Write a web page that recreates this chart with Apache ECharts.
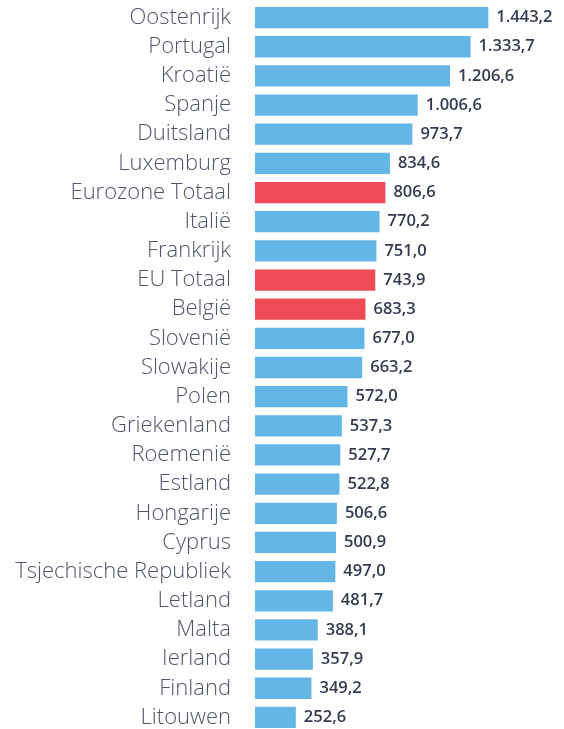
<!DOCTYPE html>
<html>
<head>
<meta charset="utf-8">
<script src="https://cdn.jsdelivr.net/npm/echarts@6/dist/echarts.min.js"></script>
<style>
    html, body { margin: 0; padding: 0; background: #fff; overflow: hidden; }
    #chart { width: 564px; height: 740px; }
</style>
</head>
<body>
<div id="chart"></div>
<script>
// landen, van boven naar beneden
const landen = [
    'Oostenrijk', 'Portugal', 'Kroatië', 'Spanje', 'Duitsland', 'Luxemburg',
    'Eurozone Totaal', 'Italië', 'Frankrijk', 'EU Totaal', 'België', 'Slovenië',
    'Slowakije', 'Polen', 'Griekenland', 'Roemenië', 'Estland', 'Hongarije',
    'Cyprus', 'Tsjechische Republiek', 'Letland', 'Malta', 'Ierland', 'Finland', 'Litouwen'
];
const waarden = [
    1443.2, 1333.7, 1206.6, 1006.6, 973.7, 834.6,
    806.6, 770.2, 751.0, 743.9, 683.3, 677.0,
    663.2, 572.0, 537.3, 527.7, 522.8, 506.6,
    500.9, 497.0, 481.7, 388.1, 357.9, 349.2, 252.6
];
const gemarkeerd = ['Eurozone Totaal', 'EU Totaal', 'België'];

const blauw = '#64b6e7';
const rood = '#ef4b57';

function nlFormat(v) {
    let s = v.toFixed(1).split('.');
    let heel = s[0].replace(/\B(?=(\d{3})+(?!\d))/g, '.');
    return heel + ',' + s[1];
}

const chart = echarts.init(document.getElementById('chart'));
chart.setOption({
    animation: false,
    grid: {
        top: 3,
        height: 729,
        left: 255,
        width: 291,
        containLabel: false
    },
    xAxis: {
        type: 'value',
        min: 0,
        max: 1800,
        show: false
    },
    yAxis: {
        type: 'category',
        inverse: true,
        data: landen,
        axisLine: { show: false },
        axisTick: { show: false },
        axisLabel: {
            interval: 0,
            margin: 24,
            fontFamily: 'Open Sans',
            fontWeight: 300,
            fontSize: 22,
            color: '#505669'
        }
    },
    series: [
        {
            type: 'bar',
            barCategoryGap: '27%',
            data: waarden.map((v, i) => ({
                value: v,
                itemStyle: { color: gemarkeerd.includes(landen[i]) ? rood : blauw }
            })),
            label: {
                show: true,
                position: 'right',
                distance: 8,
                fontFamily: 'Open Sans',
                fontWeight: 600,
                fontSize: 16.5,
                color: '#343b50',
                formatter: (p) => nlFormat(p.value)
            }
        }
    ]
});
</script>
</body>
</html>
